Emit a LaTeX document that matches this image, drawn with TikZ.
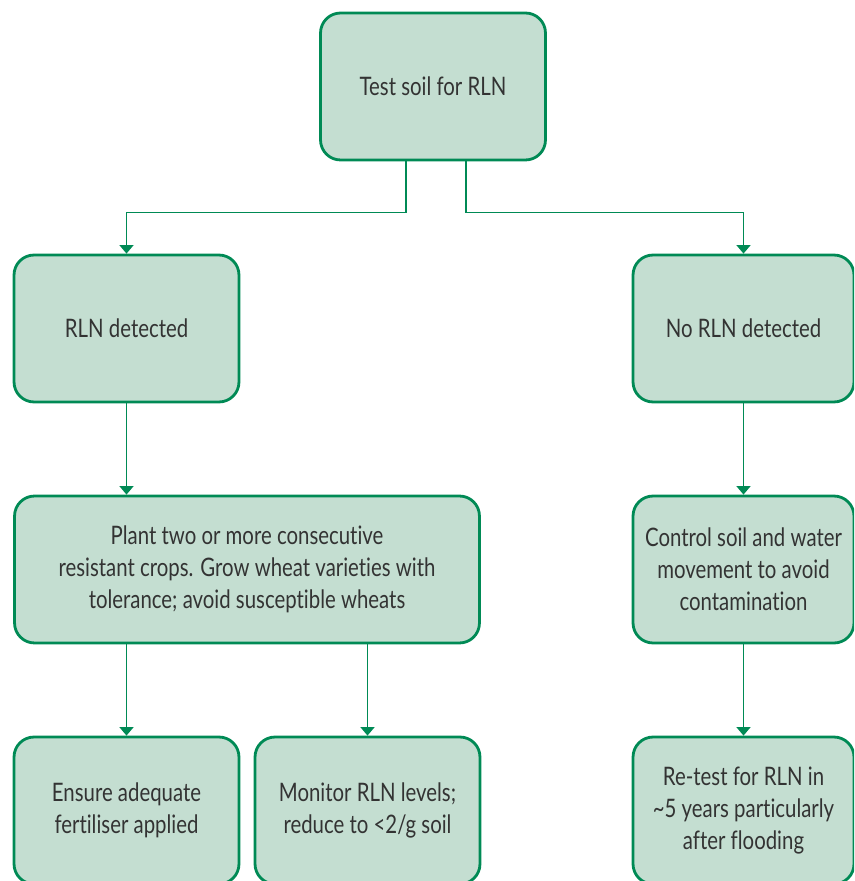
\documentclass[tikz,border=0pt]{standalone}
\usepackage{fontspec}
\setmainfont{Lato}[FakeStretch=0.8,Ligatures=NoCommon]
\usetikzlibrary{arrows.meta}
\definecolor{boxfill}{HTML}{C4DED1}
\definecolor{boxline}{HTML}{008A55}
\definecolor{txt}{HTML}{333333}

\begin{document}
\begin{tikzpicture}[x=0.02cm,y=-0.02cm,
  box/.style={draw=boxline,fill=boxfill,line width=1.6pt,rounded corners=0.4cm,
    minimum width=4.5cm,minimum height=2.94cm,align=center,text=txt,
    font=\fontsize{14.5}{18.2}\selectfont,inner sep=2pt},
  arr/.style={draw=boxline,line width=0.8pt,-{Triangle[width=0.28cm,length=0.17cm]}}]
    \useasboundingbox (0,0) rectangle (854,881);
    \clip (0,0) rectangle (854,881);
    \node[box] (test) at (433,86.5) {Test soil for RLN};
    \node[box] (rln) at (126.5,328.5) {RLN detected};
    \node[box,minimum width=4.42cm] (norln) at (743.5,328.5) {No RLN detected};
    \node[box,minimum width=9.3cm] (plant) at (247,569.5) {Plant two or more consecutive\\resistant crops. Grow wheat varieties with\\tolerance; avoid susceptible wheats};
    \node[box,minimum width=4.42cm] (control) at (743.5,569.5) {Control soil and water\\movement to avoid\\contamination};
    \node[box] (ensure) at (126.5,810.5) {Ensure adequate\\fertiliser applied};
    \node[box] (monitor) at (367.5,810.5) {Monitor RLN levels;\\reduce to <2/g soil};
    \node[box,minimum width=4.42cm] (retest) at (743.5,810.5) {Re-test for RLN in\\\textasciitilde5 years particularly\\after flooding};
    \draw[arr] ([xshift=-0.54cm]test.south) -- ++(0,51) -| (rln.north);
    \draw[arr] ([xshift=0.66cm]test.south) -- ++(0,51) -| (norln.north);
    \draw[arr] (rln) -- (plant.north -| rln);
    \draw[arr] (norln) -- (control);
    \draw[arr] (ensure.north |- plant.south) -- (ensure.north);
    \draw[arr] (monitor.north |- plant.south) -- (monitor.north);
    \draw[arr] (control) -- (retest);
\end{tikzpicture}
\end{document}
